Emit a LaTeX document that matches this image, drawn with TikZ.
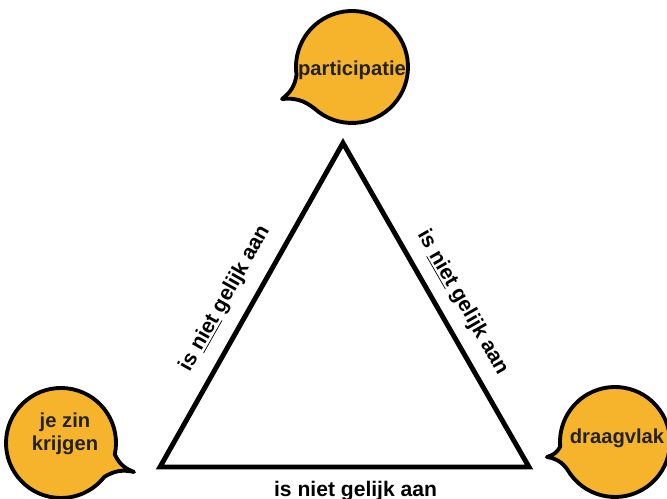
\documentclass[tikz,border=0pt]{standalone}
\usepackage{fontspec}
\setmainfont{Liberation Sans}
\usepackage{tikz}
\usetikzlibrary{calc}
\definecolor{bubbleorange}{HTML}{F6B42C}
\definecolor{bubbletext}{HTML}{222222}
\tikzset{bubble/.style={draw=black, line width=2.2pt, fill=bubbleorange, line join=round},
	bubblelabel/.style={font=\bfseries\fontsize{11.5}{13}\selectfont, text=bubbletext, align=center},
	edgelabel/.style={font=\bfseries\fontsize{12}{14}\selectfont}}
% #1 center, #2 radius, #3 start angle, #4 end angle, #5 tip of the tail
\newcommand{\speechbubble}[5]{%
	\path[bubble] ($(#1)+(#3:#2)$) arc[start angle=#3, end angle=#4, radius=#2] to[bend left=22] (#5) to[bend left=22] cycle;}

\begin{document}
\begin{tikzpicture}[x=0.02cm, y=0.02cm]
\useasboundingbox (0,0) rectangle (667,499);

% bubbles
\coordinate (pc) at (352,432);
\coordinate (jc) at (61,56);
\coordinate (dc) at (615,57);
\coordinate (ptip) at (282,400);
\coordinate (jtip) at (134,27);
\coordinate (dtip) at (547,42);

\speechbubble{pc}{56}{228}{548}{ptip}
\speechbubble{jc}{55}{-12}{322}{jtip}
\speechbubble{dc}{55}{210}{545}{dtip}

\node[bubblelabel] (participatie) at (352,429) {participatie};
\node[bubblelabel] (zin) at (65,65) {je zin\\krijgen};
\node[bubblelabel] (draagvlak) at (617,61) {draagvlak};

% triangle
\coordinate (top) at (343,356);
\coordinate (left) at (160,32);
\coordinate (right) at (529,32);

\draw[line width=2.8pt, line join=miter] (left) -- node[edgelabel, sloped, above=0.16cm, pos=0.48] (lefttext) {is \underline{niet} gelijk aan} (top)
	-- node[edgelabel, sloped, above=0.12cm, pos=0.53] (righttext) {is \underline{niet} gelijk aan} (right)
	-- node[edgelabel, below=0.12cm, pos=0.47] (bottomtext) {is niet gelijk aan} cycle;

\end{tikzpicture}
\end{document}
